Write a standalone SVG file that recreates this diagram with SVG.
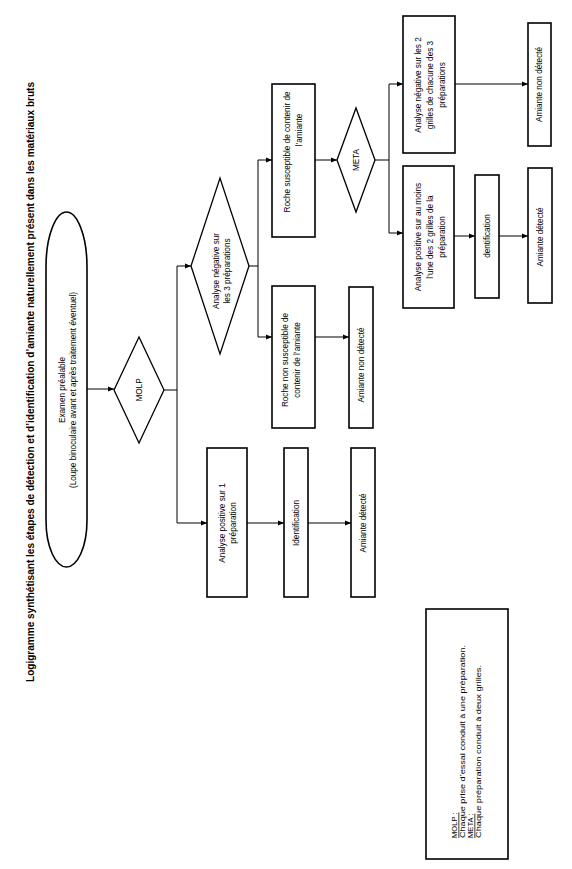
<svg xmlns="http://www.w3.org/2000/svg" width="572" height="869" viewBox="0 0 572 869">
<defs>
<marker id="arr" viewBox="0 0 10 10" refX="10" refY="5" markerWidth="6" markerHeight="6" orient="auto" markerUnits="userSpaceOnUse">
<path d="M0,1 L10,5 L0,9 Z" fill="#000"/>
</marker>
<style>
text{font-family:"Liberation Sans",Arial,sans-serif;font-size:8.2px;fill:#000;text-anchor:middle;dominant-baseline:central}
.title{font-weight:bold;font-size:10.5px}
.box{fill:#fff;stroke:#000;stroke-width:1.6}
.dia{fill:#fff;stroke:#000;stroke-width:1.3}
.con line,.con polyline{stroke:#000;stroke-width:1;fill:none}
.arrow{marker-end:url(#arr)}
.leg{text-anchor:start;font-size:7.6px}
.u{text-decoration:underline}
</style>
</defs>
<rect width="572" height="869" fill="#fff"/>

<g id="title">
<text class="title" transform="translate(30 382) rotate(-90)" textLength="600" lengthAdjust="spacingAndGlyphs">Logigramme synthétisant les étapes de détection et d’identification d’amiante naturellement présent dans les matériaux bruts</text>
</g>

<g class="con" id="connectors">
<line class="arrow" x1="87" y1="389" x2="114" y2="389"/>
<polyline points="164,390 177,390"/>
<line x1="177" y1="266" x2="177" y2="523"/>
<line class="arrow" x1="177" y1="266" x2="191" y2="266"/>
<line class="arrow" x1="177" y1="523" x2="207" y2="523"/>
<line x1="249" y1="266" x2="258" y2="266"/>
<line x1="258" y1="160" x2="258" y2="337"/>
<line class="arrow" x1="258" y1="160" x2="272" y2="160"/>
<line class="arrow" x1="258" y1="337" x2="272" y2="337"/>
<line class="arrow" x1="315" y1="160" x2="337" y2="160"/>
<line class="arrow" x1="315" y1="337" x2="349" y2="337"/>
<line x1="375" y1="160" x2="389" y2="160"/>
<line x1="389" y1="84" x2="389" y2="233"/>
<line class="arrow" x1="389" y1="84" x2="403" y2="84"/>
<line class="arrow" x1="389" y1="233" x2="403" y2="233"/>
<line class="arrow" x1="455" y1="84" x2="528" y2="84"/>
<line class="arrow" x1="454" y1="236" x2="475" y2="236"/>
<line class="arrow" x1="499" y1="236" x2="528" y2="236"/>
<line class="arrow" x1="247" y1="523" x2="284" y2="523"/>
<line class="arrow" x1="308" y1="523" x2="351" y2="523"/>
</g>

<g id="examen">
<path class="box" d="M46,267 C46,235 56,212 66.5,212 C77,212 87,235 87,267 L87,520 C87,548 77,567 66.5,567 C56,567 46,548 46,520 Z"/>
<text transform="translate(67.5 390) rotate(-90)"><tspan x="0" y="-5.5">Examen préalable</tspan><tspan x="0" y="5.5">(Loupe binoculaire avant et après traitement éventuel)</tspan></text>
</g>

<g id="molp">
<polygon class="dia" points="114,390 139,337 164,390 139,443"/>
<text transform="translate(139 390) rotate(-90)">MOLP</text>
</g>

<g id="analyse-negative-3">
<polygon class="dia" points="191,266 220,178 249,266 220,354"/>
<text transform="translate(221.5 271) rotate(-90)"><tspan x="0" y="-5.5">Analyse négative sur</tspan><tspan x="0" y="5.5">les 3 préparations</tspan></text>
</g>

<g id="roche-susceptible">
<rect class="box" x="272" y="84" width="43" height="153"/>
<text transform="translate(287 152) rotate(-90)">Roche susceptible de contenir de</text>
<text transform="translate(299.5 130) rotate(-90)">l’amiante</text>
</g>

<g id="roche-non-susceptible">
<rect class="box" x="272" y="286" width="43" height="142"/>
<text transform="translate(291 360) rotate(-90)"><tspan x="0" y="-6">Roche non susceptible de</tspan><tspan x="0" y="6">contenir de l’amiante</tspan></text>
</g>

<g id="amiante-non-detecte-1">
<rect class="box" x="349" y="287" width="24" height="141"/>
<text transform="translate(361 365) rotate(-90)">Amiante non détecté</text>
</g>

<g id="meta">
<polygon class="dia" points="337,160 356,108 375,160 356,212"/>
<text transform="translate(356 160) rotate(-90)">META</text>
</g>

<g id="analyse-negative-grilles">
<rect class="box" x="403" y="16" width="52" height="137"/>
<text transform="translate(430 85) rotate(-90)"><tspan x="0" y="-12">Analyse négative sur les 2</tspan><tspan x="0" y="0">grilles de chacune des 3</tspan><tspan x="0" y="12">préparations</tspan></text>
</g>

<g id="amiante-non-detecte-2">
<rect class="box" x="528" y="23" width="23" height="123"/>
<text transform="translate(539.5 84.5) rotate(-90)">Amiante non détecté</text>
</g>

<g id="analyse-positive-grilles">
<rect class="box" x="403" y="166" width="51" height="142"/>
<text transform="translate(430 237) rotate(-90)"><tspan x="0" y="-12">Analyse positive sur au moins</tspan><tspan x="0" y="0">l’une des 2 grilles de la</tspan><tspan x="0" y="12">préparation</tspan></text>
</g>

<g id="identification-2">
<rect class="box" x="475" y="175" width="24" height="123"/>
<text transform="translate(487 236) rotate(-90)">dentification</text>
</g>

<g id="amiante-detecte-2">
<rect class="box" x="528" y="168" width="24" height="135"/>
<text transform="translate(540 237) rotate(-90)">Amiante détecté</text>
</g>

<g id="analyse-positive-1">
<rect class="box" x="207" y="448" width="40" height="149"/>
<text transform="translate(227.5 523) rotate(-90)"><tspan x="0" y="-5.5">Analyse positive sur 1</tspan><tspan x="0" y="5.5">préparation</tspan></text>
</g>

<g id="identification-1">
<rect class="box" x="284" y="448" width="24" height="149"/>
<text transform="translate(296 523) rotate(-90)">Identification</text>
</g>

<g id="amiante-detecte-1">
<rect class="box" x="351" y="448" width="24" height="149"/>
<text transform="translate(363 523) rotate(-90)">Amiante détecté</text>
</g>

<g id="legende">
<rect class="box" x="426" y="609" width="82" height="250"/>
<text class="leg u" transform="translate(454 838) rotate(-90)">MOLP :</text>
<text class="leg" transform="translate(462 838) rotate(-90)" textLength="193" lengthAdjust="spacingAndGlyphs">Chaque prise  d’essai conduit à une préparation.</text>
<text class="leg u" transform="translate(470 838) rotate(-90)">META :</text>
<text class="leg" transform="translate(478 838) rotate(-90)" textLength="173" lengthAdjust="spacingAndGlyphs">Chaque  préparation  conduit à deux grilles.</text>
</g>
</svg>
